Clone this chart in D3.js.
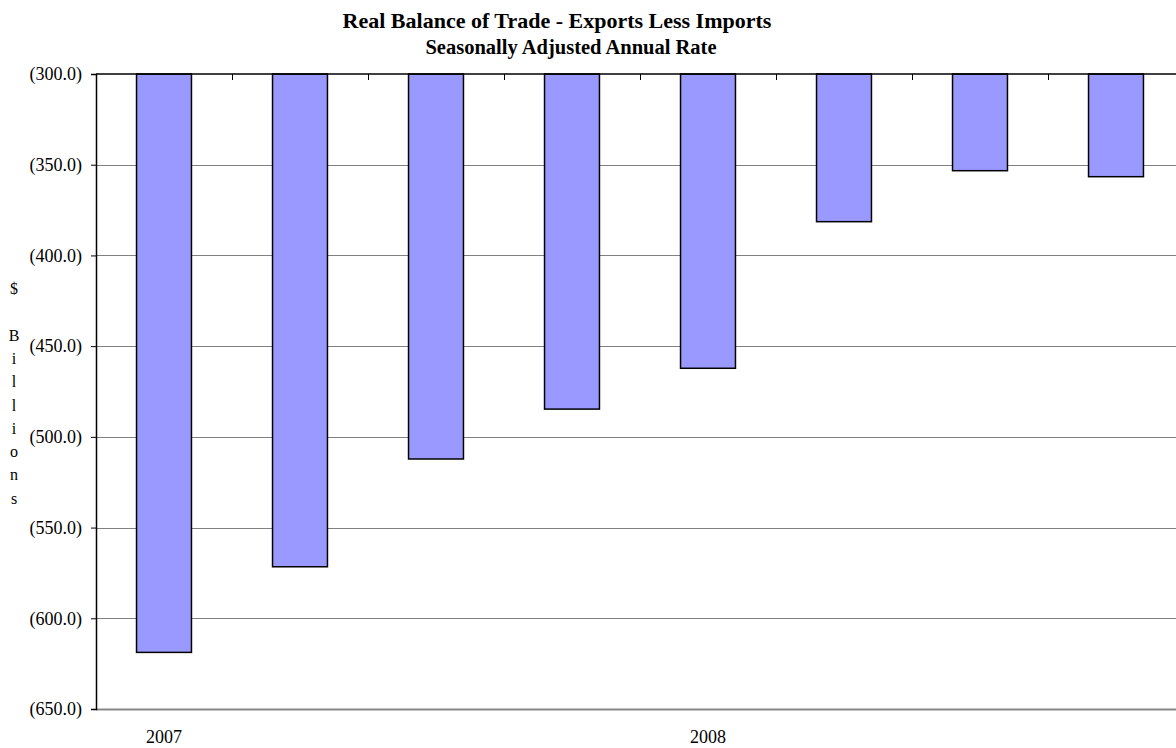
<!DOCTYPE html>
<html>
<head>
<meta charset="utf-8">
<script src="https://cdn.jsdelivr.net/npm/d3@7"></script>
<style>
  html, body { margin: 0; padding: 0; background: #fff; }
  svg { display: block; }
  text { font-family: "Liberation Serif", "Times New Roman", serif; fill: #000; }
</style>
</head>
<body>
<svg id="chart" width="1176" height="748"></svg>
<script>
// ---- Data ----
const categories = ["Q1 2007", "Q2 2007", "Q3 2007", "Q4 2007", "Q1 2008", "Q2 2008", "Q3 2008", "Q4 2008"];
const categoryLabels = ["2007", "", "", "", "2008", "", "", ""];
const values = [-618.8, -571.6, -512.2, -484.7, -462.2, -381.4, -353.3, -356.6];
const yTicks = [-300, -350, -400, -450, -500, -550, -600, -650];
const titleLines = ["Real Balance of Trade - Exports Less Imports", "Seasonally Adjusted Annual Rate"];
const yAxisLetters = ["$", "", "B", "i", "l", "l", "i", "o", "n", "s"];

(function () {
// ---- Layout ----
const svg = d3.select("#chart");
const plotLeft = 96, plotRight = 1184, plotTop = 74, plotBottom = 709;

const x = d3.scaleBand()
  .domain(categories)
  .range([plotLeft, plotRight])
  .paddingInner(0.596)
  .paddingOuter(0.298);

const y = d3.scaleLinear()
  .domain([-300, -650])
  .range([plotTop, plotBottom]);

const fmt = v => "(" + Math.abs(v).toFixed(1) + ")";

// gridlines
svg.append("g")
  .selectAll("line")
  .data(yTicks.filter(t => t !== -300))
  .join("line")
  .attr("x1", plotLeft).attr("x2", plotRight)
  .attr("y1", d => Math.round(y(d)) + 0.5).attr("y2", d => Math.round(y(d)) + 0.5)
  .attr("stroke", d => d === -650 ? "#888" : "#808080")
  .attr("stroke-width", d => d === -650 ? 2 : 1);

// bars (hanging from -300)
svg.append("g")
  .selectAll("rect")
  .data(values)
  .join("rect")
  .attr("x", (d, i) => x(categories[i]))
  .attr("width", x.bandwidth())
  .attr("y", y(-300))
  .attr("height", d => y(d) - y(-300))
  .attr("fill", "#9999ff")
  .attr("stroke", "#000")
  .attr("stroke-width", 1.5);

// y axis
const yAxis = d3.axisLeft(y)
  .tickValues(yTicks)
  .tickFormat(fmt)
  .tickSize(5)
  .tickPadding(9);
const gy = svg.append("g")
  .attr("transform", `translate(${plotLeft},0)`)
  .call(yAxis);
gy.attr("font-size", 18).attr("font-family", "Liberation Serif, serif");
gy.select(".domain").attr("stroke", "#000").attr("stroke-width", 1.5);
gy.selectAll(".tick line").attr("stroke", "#000");
gy.selectAll(".tick text")
  .style("font-size", "18px")
  .attr("fill", "#000");

// top category axis (at -300) with inward ticks at band boundaries
svg.append("line")
  .attr("x1", plotLeft).attr("x2", plotRight)
  .attr("y1", y(-300)).attr("y2", y(-300))
  .attr("stroke", "#000").attr("stroke-width", 1.5);
svg.append("g")
  .selectAll("line")
  .data(categories.slice(1))
  .join("line")
  .attr("x1", d => Math.round(x(d) - x.step() * x.paddingInner() / 2) + 0.5)
  .attr("x2", d => Math.round(x(d) - x.step() * x.paddingInner() / 2) + 0.5)
  .attr("y1", y(-300))
  .attr("y2", y(-300) + 6)
  .attr("stroke", "#000");

// category labels at bottom
svg.append("g")
  .selectAll("text")
  .data(categoryLabels)
  .join("text")
  .attr("x", (d, i) => x(categories[i]) + x.bandwidth() / 2)
  .attr("y", 743)
  .attr("text-anchor", "middle")
  .style("font-size", "18px")
  .text(d => d);

// title
svg.append("text")
  .attr("x", 557).attr("y", 28)
  .attr("text-anchor", "middle")
  .style("font-size", "22px").attr("font-weight", "bold")
  .text(titleLines[0]);
svg.append("text")
  .attr("x", 571).attr("y", 54)
  .attr("text-anchor", "middle")
  .style("font-size", "20.5px").attr("font-weight", "bold")
  .text(titleLines[1]);

// vertical stacked y-axis label (one letter per line)
const letterTop = 294, letterStep = 23.3;
svg.append("g")
  .selectAll("text")
  .data(yAxisLetters)
  .join("text")
  .attr("x", 14)
  .attr("y", (d, i) => letterTop + i * letterStep)
  .attr("text-anchor", "middle")
  .style("font-size", "16px")
  .text(d => d);
})();
</script>
</body>
</html>
